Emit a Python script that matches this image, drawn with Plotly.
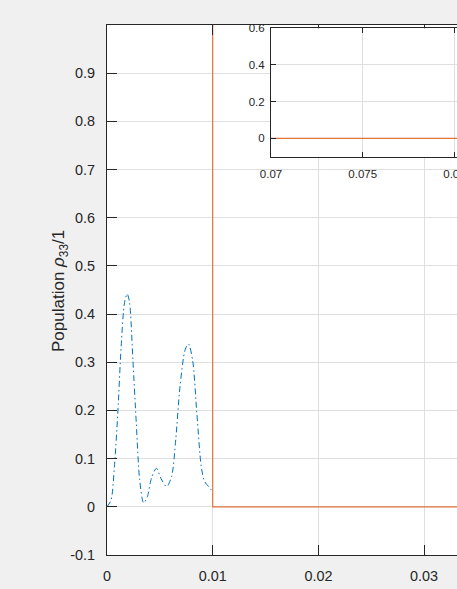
import plotly.graph_objects as go

# Blue dash-dot series (population rho_33)
t_blue = [0.0, 0.00038, 0.0007, 0.00102, 0.00134, 0.00166, 0.00191, 0.00213,
          0.00245, 0.00277, 0.00309, 0.00347, 0.00382, 0.0042, 0.00468, 0.0051,
          0.00564, 0.00611, 0.0065, 0.00691, 0.00739, 0.0077, 0.00809, 0.0085,
          0.00892, 0.00924, 0.00962, 0.01]
p_blue = [0.0, 0.014, 0.083, 0.194, 0.333, 0.424, 0.442, 0.424,
          0.305, 0.174, 0.056, 0.008, 0.021, 0.059, 0.080, 0.059,
          0.042, 0.063, 0.139, 0.25, 0.326, 0.338, 0.306, 0.194,
          0.083, 0.052, 0.042, 0.031]

# Orange step series
t_orange = [0.01, 0.01, 0.1]
p_orange = [1.0, 0.0, 0.0]

main_xticks = [0, 0.01, 0.02, 0.03]
main_xlabels = ["0", "0.01", "0.02", "0.03"]
main_yticks = [-0.1, 0, 0.1, 0.2, 0.3, 0.4, 0.5, 0.6, 0.7, 0.8, 0.9]
main_ylabels = ["-0.1", "0", "0.1", "0.2", "0.3", "0.4", "0.5", "0.6", "0.7", "0.8", "0.9"]
inset_xticks = [0.07, 0.075, 0.08]
inset_xlabels = ["0.07", "0.075", "0.08"]
inset_yticks = [0, 0.2, 0.4, 0.6]
inset_ylabels = ["0", "0.2", "0.4", "0.6"]

BLUE = "#0072BD"
ORANGE = "#E0743A"
AX = "#262626"
GRID = "#dfdfdf"
FONT = "Liberation Sans, Arial, Helvetica, sans-serif"

fig = go.Figure()
fig.add_trace(go.Scatter(x=t_blue, y=p_blue, mode="lines",
                         line=dict(color=BLUE, width=1, dash="6px,3px,1.5px,3px", shape="spline", smoothing=0.8),
                         xaxis="x", yaxis="y", showlegend=False))
fig.add_trace(go.Scatter(x=t_orange, y=p_orange, mode="lines",
                         line=dict(color=ORANGE, width=1.2),
                         xaxis="x", yaxis="y", showlegend=False))
fig.add_trace(go.Scatter(x=t_orange, y=p_orange, mode="lines",
                         line=dict(color=ORANGE, width=1.4),
                         xaxis="x2", yaxis="y2", showlegend=False))

W, H = 457, 589
ml, mt, mb = 107, 25, 34
pw = W - ml
ph = H - mt - mb

fig.update_layout(
    width=W, height=H,
    margin=dict(l=ml, r=0, t=mt, b=mb, pad=0, autoexpand=False),
    paper_bgcolor="#f0f0f0",
    plot_bgcolor="white",
    font=dict(family=FONT, color=AX, size=14),
    xaxis=dict(domain=[0, 1], range=[0, 0.03311], tickvals=main_xticks, ticktext=main_xlabels,
               showline=True, linecolor=AX, linewidth=1, mirror="ticks", automargin=False,
               ticks="inside", ticklen=10, tickcolor=AX, ticklabelstandoff=8,
               showgrid=True, gridcolor=GRID, gridwidth=1, zeroline=False,
               tickfont=dict(size=14.4), ticklabeloverflow="allow"),
    yaxis=dict(domain=[0, 1], range=[-0.1, 1.0], tickvals=main_yticks, ticktext=main_ylabels,
               showline=True, linecolor=AX, linewidth=1, mirror=False, automargin=False,
               ticks="inside", ticklen=10, tickcolor=AX, ticklabelstandoff=8,
               showgrid=True, gridcolor=GRID, gridwidth=1, zeroline=False,
               tickfont=dict(size=14.4)),
    xaxis2=dict(domain=[(271 - ml) / pw, 1], anchor="y2", range=[0.07, 0.08014],
                tickvals=inset_xticks, ticktext=inset_xlabels, automargin=False,
                showline=True, linecolor=AX, linewidth=1, mirror="ticks",
                ticks="inside", ticklen=5, tickcolor=AX, ticklabelstandoff=6,
                showgrid=True, gridcolor=GRID, zeroline=False, tickfont=dict(size=11.5),
                ticklabeloverflow="allow"),
    yaxis2=dict(domain=[(H - mb - 156.7) / ph, (H - mb - 28.3) / ph], anchor="x2", range=[-0.1, 0.6],
                tickvals=inset_yticks, ticktext=inset_ylabels, automargin=False,
                showline=True, linecolor=AX, linewidth=1, mirror=False,
                ticks="inside", ticklen=5, tickcolor=AX, ticklabelstandoff=3,
                showgrid=True, gridcolor=GRID, zeroline=False, tickfont=dict(size=11.5)),
    annotations=[dict(text="Population <i>ρ</i><sub>33</sub>/1", textangle=-90,
                      xref="paper", yref="paper", x=(60 - ml) / pw, y=(H - mb - 291) / ph,
                      xanchor="center", yanchor="middle", showarrow=False,
                      font=dict(size=17, color=AX, family=FONT))],
)

fig.write_html("out.html", config={"displayModeBar": False},
               post_script="document.body.style.margin='0';document.body.style.overflow='hidden';")
